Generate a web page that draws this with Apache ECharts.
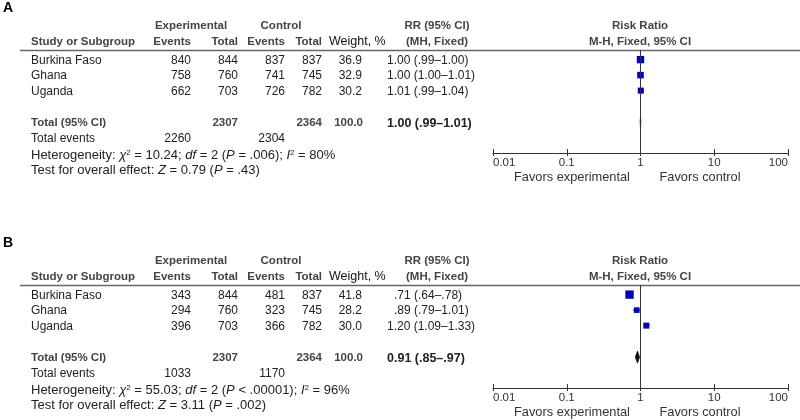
<!DOCTYPE html>
<html>
<head>
<meta charset="utf-8">
<script src="https://cdn.jsdelivr.net/npm/echarts@6/dist/echarts.min.js"></script>
<style>
  html, body { margin: 0; background: #fff; }
  #main { width: 800px; height: 420px; }
</style>
</head>
<body>
<div id="main"></div>
<script>
const FONT = "'Liberation Sans', Arial, sans-serif";
const SQUARE = "#0000b4";
const INK = "#222";
const HEAD = "#444";

// shared
const studies = ["Burkina Faso", "Ghana", "Uganda"];
const xTicks = [0.01, 0.1, 1, 10, 100];
const rowPos = [0.62, 1.62, 2.62];
const totalRowPos = 4.65;

// panel A
const expEventsA = [840, 758, 662];
const expTotalA = [844, 760, 703];
const ctlEventsA = [837, 741, 726];
const ctlTotalA = [837, 745, 782];
const weightA = [36.9, 32.9, 30.2];
const rrA = [1.00, 1.00, 1.01];
const loA = [0.99, 1.00, 0.99];
const hiA = [1.00, 1.01, 1.04];
const rrTextA = ["1.00 (.99–1.00)", "1.00 (1.00–1.01)", "1.01 (.99–1.04)"];
const pooledA = [1.00, 0.99, 1.01];
const pooledTextA = "1.00 (.99–1.01)";
const totalNA = [2307, 2364];
const totalEventsA = [2260, 2304];
const hetA = ["10.24", "= .006", "80%"];
const zTestA = ["0.79", ".43"];

// panel B
const expEventsB = [343, 294, 396];
const expTotalB = [844, 760, 703];
const ctlEventsB = [481, 323, 366];
const ctlTotalB = [837, 745, 782];
const weightB = [41.8, 28.2, 30.0];
const rrB = [0.71, 0.89, 1.20];
const loB = [0.64, 0.79, 1.09];
const hiB = [0.78, 1.01, 1.33];
const rrTextB = [".71 (.64–.78)", ".89 (.79–1.01)", "1.20 (1.09–1.33)"];
const pooledB = [0.91, 0.85, 0.97];
const pooledTextB = "0.91 (.85–.97)";
const totalNB = [2307, 2364];
const totalEventsB = [1033, 1170];
const hetB = ["55.03", "< .00001", "96%"];
const zTestB = ["3.11", ".002"];

// column anchors (px)
const COL = { study: 31, expEv: 191, expTot: 238, ctlEv: 285, ctlTot: 322, weight: 362, rrDot: 394 };
const PLOT_LEFT = 493, PLOT_RIGHT = 788, PLOT_TOP = 50, PLOT_H = 103, ROW_H = 15.5;

function txt(x, y, text, opt) {
  opt = opt || {};
  return {
    type: "text", silent: true,
    style: {
      x: x, y: y, text: text,
      fill: opt.fill || INK,
      fontSize: opt.size || 12,
      fontFamily: FONT,
      fontWeight: opt.bold ? "bold" : "normal",
      align: opt.align || "left",
      verticalAlign: "middle",
      rich: opt.rich
    }
  };
}

const richStat = {
  i: { fontStyle: "italic", fontSize: 13, fontFamily: FONT, fill: INK },
  s: { fontSize: 8, fontFamily: FONT, fill: INK, verticalAlign: "top", padding: [0, 0, 5, 0] }
};

function rrX(label) {
  // decimal-align the point estimate
  return label.startsWith(".") ? COL.rrDot : COL.rrDot - 7;
}

function panel(k, top, letter, d) {
  const g = [];
  const rowY = (r) => top + PLOT_TOP + r * ROW_H + 1;
  const hd = { bold: true, fill: HEAD, size: 11.5 };
  g.push(txt(3, top + 8, letter, { bold: true, size: 14, fill: "#000" }));
  g.push(txt(191, top + 26, "Experimental", Object.assign({ align: "center" }, hd)));
  g.push(txt(281, top + 26, "Control", Object.assign({ align: "center" }, hd)));
  g.push(txt(437, top + 26, "RR (95% CI)", Object.assign({ align: "center" }, hd)));
  g.push(txt(640, top + 26, "Risk Ratio", Object.assign({ align: "center" }, hd)));
  g.push(txt(COL.study, top + 42, "Study or Subgroup", hd));
  g.push(txt(COL.expEv, top + 42, "Events", Object.assign({ align: "right" }, hd)));
  g.push(txt(COL.expTot, top + 42, "Total", Object.assign({ align: "right" }, hd)));
  g.push(txt(COL.ctlEv, top + 42, "Events", Object.assign({ align: "right" }, hd)));
  g.push(txt(COL.ctlTot, top + 42, "Total", Object.assign({ align: "right" }, hd)));
  g.push(txt(329, top + 42, "Weight, %", { fill: "#111", size: 12.5 }));
  g.push(txt(437, top + 42, "(MH, Fixed)", Object.assign({ align: "center" }, hd)));
  g.push(txt(640, top + 42, "M-H, Fixed, 95% CI", Object.assign({ align: "center" }, hd)));
  g.push({
    type: "line", silent: true,
    shape: { x1: 20, y1: top + 50.5, x2: 800, y2: top + 50.5 },
    style: { stroke: "#666", lineWidth: 1.5 }
  });
  studies.forEach((s, i) => {
    const y = rowY(rowPos[i]);
    g.push(txt(COL.study, y, s));
    g.push(txt(COL.expEv, y, String(d.expEvents[i]), { align: "right" }));
    g.push(txt(COL.expTot, y, String(d.expTotal[i]), { align: "right" }));
    g.push(txt(COL.ctlEv, y, String(d.ctlEvents[i]), { align: "right" }));
    g.push(txt(COL.ctlTot, y, String(d.ctlTotal[i]), { align: "right" }));
    g.push(txt(COL.weight, y, d.weight[i].toFixed(1), { align: "right" }));
    g.push(txt(rrX(d.rrText[i]), y, d.rrText[i]));
  });
  const ty = rowY(totalRowPos);
  g.push(txt(COL.study, ty, "Total (95% CI)", hd));
  g.push(txt(COL.expTot, ty, String(d.totalN[0]), Object.assign({ align: "right" }, hd)));
  g.push(txt(COL.ctlTot, ty, String(d.totalN[1]), Object.assign({ align: "right" }, hd)));
  g.push(txt(COL.weight + 1, ty, "100.0", Object.assign({ align: "right" }, hd)));
  g.push(txt(rrX(d.pooledText), ty, d.pooledText, { bold: true, fill: INK, size: 12.5 }));
  g.push(txt(COL.study, top + 139, "Total events"));
  g.push(txt(COL.expEv, top + 139, String(d.totalEvents[0]), { align: "right" }));
  g.push(txt(COL.ctlEv, top + 139, String(d.totalEvents[1]), { align: "right" }));
  g.push(txt(COL.study, top + 155,
    "Heterogeneity: {i|χ}{s|2} = " + d.het[0] + "; {i|df} = 2 ({i|P} " + d.het[1] + "); {i|I}{s|2} = " + d.het[2],
    { rich: richStat, size: 13 }));
  g.push(txt(COL.study, top + 170,
    "Test for overall effect: {i|Z} = " + d.zTest[0] + " ({i|P} = " + d.zTest[1] + ")",
    { rich: richStat, size: 13 }));
  g.push(txt(572, top + 177, "Favors experimental", { size: 12.8, fill: "#333", align: "center" }));
  g.push(txt(700, top + 177, "Favors control", { size: 12.8, fill: "#333", align: "center" }));

  const grid = { left: PLOT_LEFT, width: PLOT_RIGHT - PLOT_LEFT, top: top + PLOT_TOP, height: PLOT_H };
  const xAxis = {
    type: "log", logBase: 10, gridIndex: k, position: "bottom",
    min: xTicks[0], max: xTicks[xTicks.length - 1],
    axisLine: { onZero: false, lineStyle: { color: "#333", width: 1 } },
    axisTick: { inside: true, length: 4, lineStyle: { color: "#333" } },
    axisLabel: {
      color: "#333", fontSize: 11.5, fontFamily: FONT, margin: 4,
      showMinLabel: true, showMaxLabel: true,
      alignMinLabel: "left", alignMaxLabel: "right",
      formatter: (v) => String(+(+v).toPrecision(2))
    },
    splitLine: { show: false }
  };
  // second axis on the same edge, only for the short outward half of each tick
  const tickAxis = {
    type: "log", logBase: 10, gridIndex: k, position: "bottom",
    min: xTicks[0], max: xTicks[xTicks.length - 1],
    axisLine: { show: false, onZero: false },
    axisTick: { inside: false, length: 3, lineStyle: { color: "#333" } },
    axisLabel: { show: false },
    splitLine: { show: false }
  };
  const yAxis = {
    type: "value", gridIndex: k, inverse: true,
    min: 0, max: PLOT_H / ROW_H, show: false
  };

  const studyData = studies.map((s, i) => [d.rr[i], d.lo[i], d.hi[i], rowPos[i], d.weight[i]]);
  const series = [
    {
      type: "custom", xAxisIndex: k, yAxisIndex: k, silent: true, z: 2,
      encode: { x: [0, 1, 2], y: 3 },
      data: studyData,
      renderItem: (params, api) => {
        const a = api.coord([api.value(1), api.value(3)]);
        const b = api.coord([api.value(2), api.value(3)]);
        return {
          type: "line",
          shape: { x1: a[0], y1: a[1], x2: b[0], y2: b[1] },
          style: { stroke: SQUARE, lineWidth: 1 }
        };
      }
    },
    {
      type: "scatter", xAxisIndex: k, yAxisIndex: k, silent: true, z: 3,
      symbol: "rect",
      symbolSize: (v) => v[4] / 5,
      itemStyle: { color: SQUARE, opacity: 1 },
      encode: { x: 0, y: 3 },
      data: studyData,
      markLine: {
        silent: true, symbol: "none", animation: false,
        label: { show: false },
        lineStyle: { color: "#333", width: 1, type: "solid" },
        data: [{ xAxis: 1 }]
      }
    },
    {
      type: "custom", xAxisIndex: k, yAxisIndex: k, silent: true, z: 4,
      encode: { x: [0, 1, 2], y: 3 },
      data: [[d.pooled[0], d.pooled[1], d.pooled[2], totalRowPos]],
      renderItem: (params, api) => {
        const c = api.coord([api.value(0), api.value(3)]);
        const l = api.coord([api.value(1), api.value(3)]);
        const h = api.coord([api.value(2), api.value(3)]);
        return {
          type: "polygon",
          shape: { points: [[l[0], c[1]], [c[0], c[1] - 6], [h[0], c[1]], [c[0], c[1] + 6]] },
          style: { fill: "#111", stroke: "#111", lineWidth: 0.8 }
        };
      }
    }
  ];
  return { graphic: g, grid, xAxis, tickAxis, yAxis, series };
}

const pA = panel(0, 0, "A", {
  expEvents: expEventsA, expTotal: expTotalA, ctlEvents: ctlEventsA, ctlTotal: ctlTotalA,
  weight: weightA, rr: rrA, lo: loA, hi: hiA, rrText: rrTextA,
  pooled: pooledA, pooledText: pooledTextA, totalN: totalNA, totalEvents: totalEventsA,
  het: hetA, zTest: zTestA
});
const pB = panel(1, 235, "B", {
  expEvents: expEventsB, expTotal: expTotalB, ctlEvents: ctlEventsB, ctlTotal: ctlTotalB,
  weight: weightB, rr: rrB, lo: loB, hi: hiB, rrText: rrTextB,
  pooled: pooledB, pooledText: pooledTextB, totalN: totalNB, totalEvents: totalEventsB,
  het: hetB, zTest: zTestB
});

const chart = echarts.init(document.getElementById("main"), null, { renderer: "canvas" });
chart.setOption({
  animation: false,
  backgroundColor: "#fff",
  grid: [pA.grid, pB.grid],
  xAxis: [pA.xAxis, pB.xAxis, pA.tickAxis, pB.tickAxis],
  yAxis: [pA.yAxis, pB.yAxis],
  series: pA.series.concat(pB.series),
  graphic: pA.graphic.concat(pB.graphic)
});
</script>
</body>
</html>
